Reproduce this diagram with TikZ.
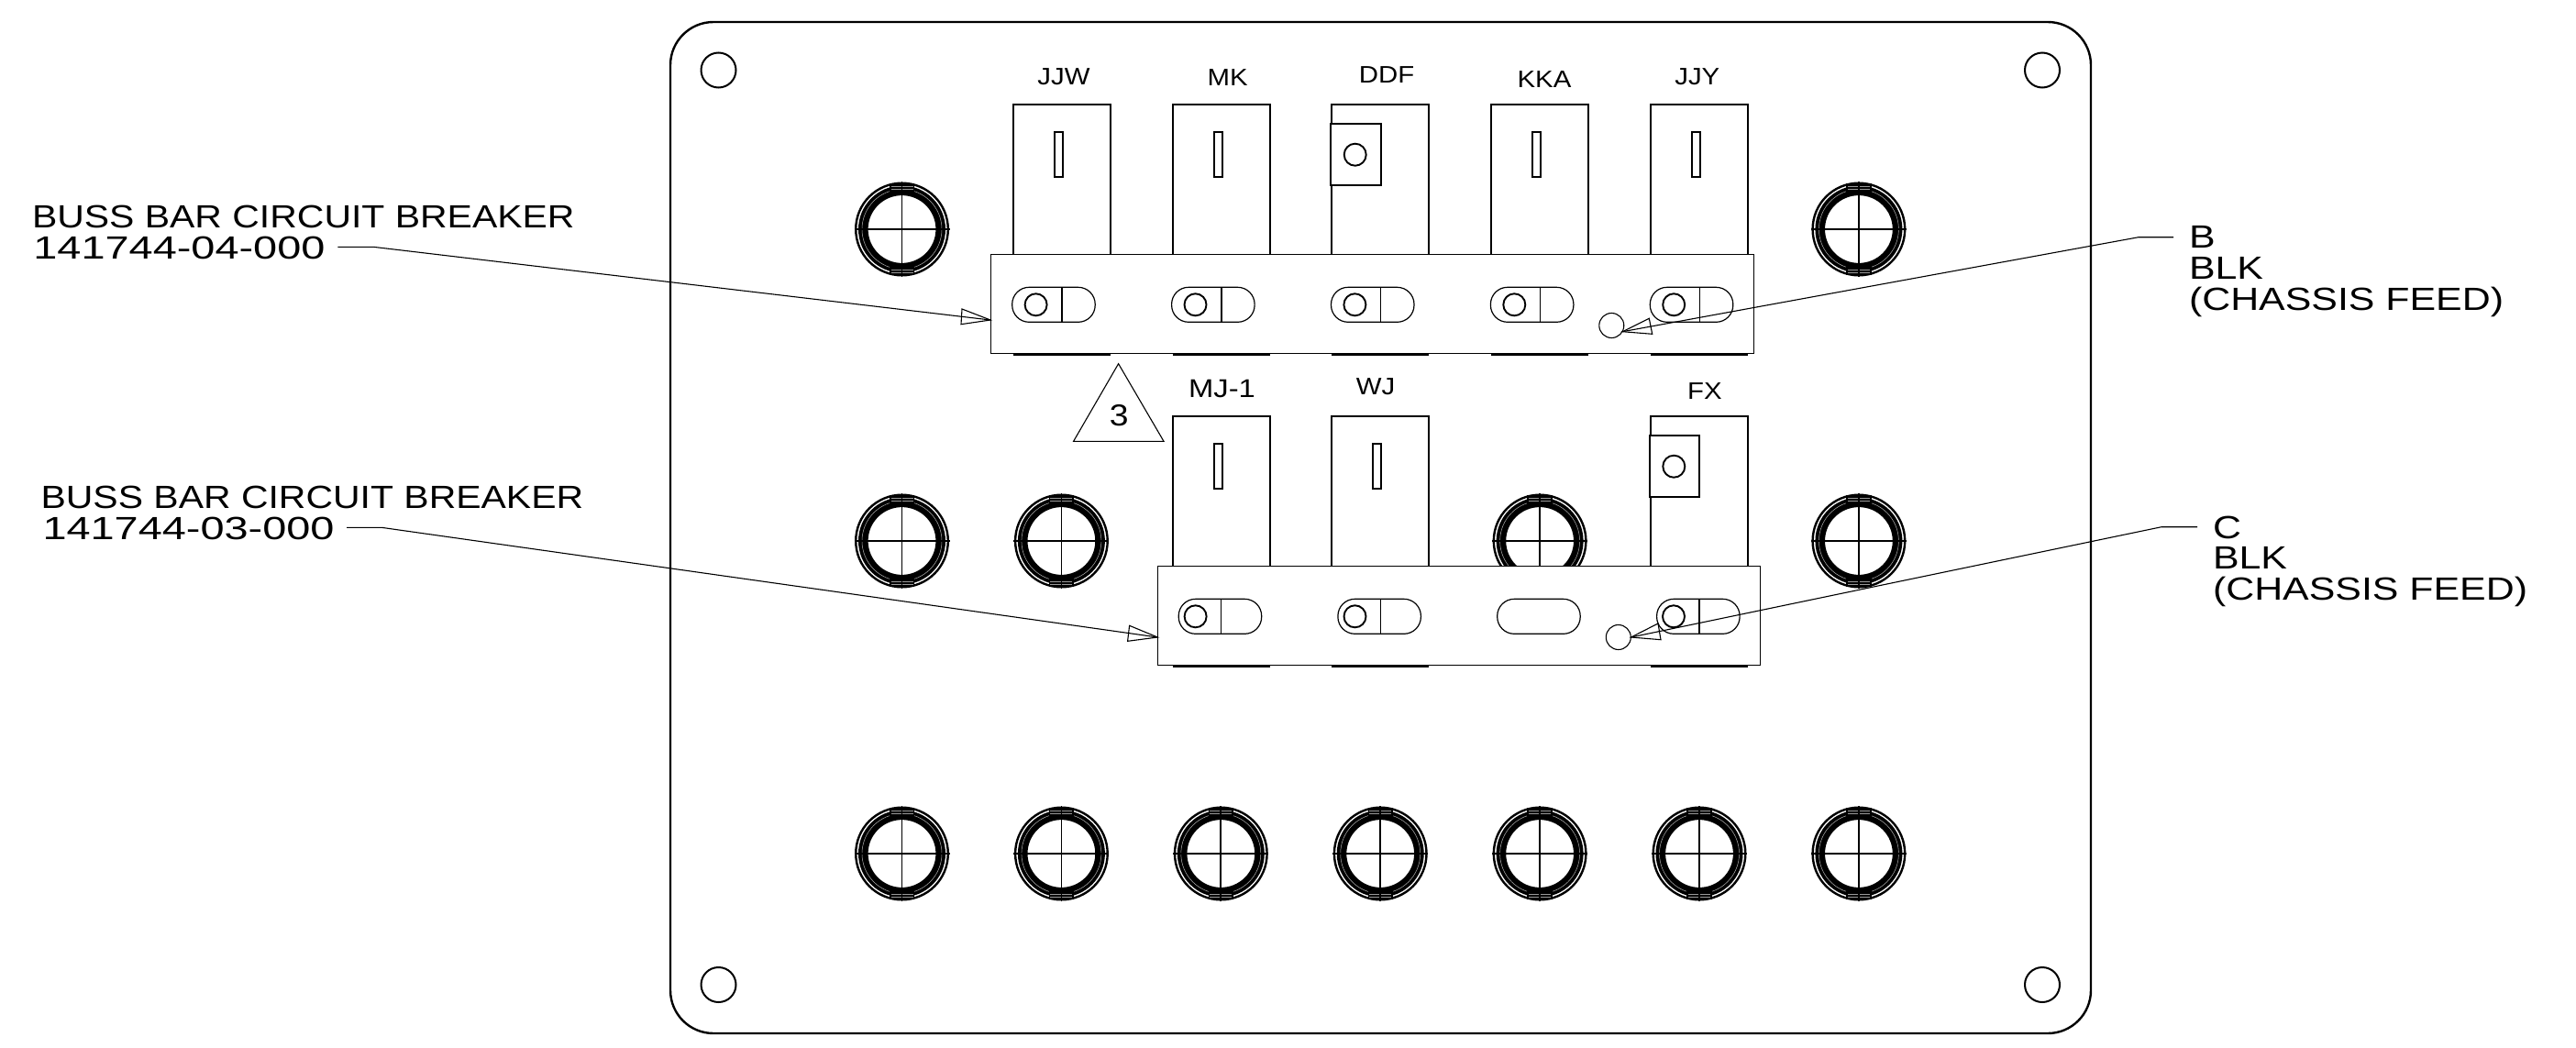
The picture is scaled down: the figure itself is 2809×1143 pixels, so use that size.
\documentclass[tikz,border=0pt]{standalone}
\usepackage{fontspec}
\setmainfont{Liberation Sans}
\newfontfamily\buslbl[FakeStretch=1.17]{Liberation Sans}
\newfontfamily\numlbl[FakeStretch=1.34]{Liberation Sans}
\newfontfamily\feedlbl[FakeStretch=1.225]{Liberation Sans}
\newfontfamily\toplbl[FakeStretch=1.13]{Liberation Sans}
\tikzset{
  plate/.style={draw=black,line width=2.4pt,rounded corners=47pt},
  hole/.style={draw=black,line width=2pt},
  breaker/.style={draw=black,line width=2pt,fill=white},
  slit/.style={draw=black,line width=2pt,fill=white},
  tabbox/.style={draw=black,line width=2pt,fill=white},
  barbox/.style={draw=black,line width=1.2pt,fill=white,rectangle,inner sep=0pt,outer sep=0pt,minimum height=108pt},
  slotline/.style={draw=black,line width=1.2pt},
  screw/.style={draw=black,line width=1.9pt},
  dot/.style={draw=black,line width=1.1pt,fill=white,circle,inner sep=0pt,outer sep=0pt,minimum size=27pt},
  leader/.style={draw=black,line width=1.1pt},
  foot/.style={draw=black,line width=3pt},
  txtb/.style={inner sep=0pt,outer sep=0pt,anchor=base west,text=black,font=\buslbl\fontsize{35}{37}\selectfont},
  txtn/.style={inner sep=0pt,outer sep=0pt,anchor=base west,text=black,font=\numlbl\fontsize{35}{37}\selectfont},
  txtf/.style={inner sep=0pt,outer sep=0pt,anchor=base west,text=black,font=\feedlbl\fontsize{35}{37}\selectfont},
  txtt/.style={inner sep=0pt,outer sep=0pt,anchor=base,text=black,font=\toplbl\fontsize{26}{28}\selectfont},
}
\newcommand{\grommetat}[2]{%
  \begin{scope}[shift={(#1,#2)}]
    \draw[black,line width=2.4pt] (0,0) circle[radius=50.3pt];
    \draw[black,line width=10.6pt] (0,0) circle[radius=42.2pt];
    \draw[white!70!black,line width=.5pt] (0,0) circle[radius=43.5pt];
    \fill[black] (-13.7,-50) rectangle (13.7,-38);
    \fill[black] (-13.7,38) rectangle (13.7,50);
    \foreach \yy in {-47,-44,44,47}{\draw[white!60!black,line width=.5pt] (-12,\yy) -- (12,\yy);}
    \draw[black,line width=1.8pt] (-52,0) -- (52,0);
    \draw[black,line width=1.8pt] (0,-52) -- (0,52);
  \end{scope}}
\newcommand{\breakerat}[3]{\draw[breaker] (#1,#3) -- (#1,#2) -- (#1+106,#2) -- (#1+106,#3);}
\newcommand{\slotat}[2]{\draw[slotline,fill=white,rounded corners=18.5pt] (#1,#2) rectangle (#1+90.5,#2+38);}
\begin{document}
\begin{tikzpicture}[x=1pt,y=-1pt]
\useasboundingbox (0,0) rectangle (2809,1143);
\fill[white] (0,0) rectangle (2809,1143);
% panel
\draw[plate] (731,24) rectangle (2280,1127);
\foreach \cx/\cy in {783.5/76.5,2227/76.5,783.5/1074,2227/1074}{\draw[hole] (\cx,\cy) circle[radius=19pt];}
% grommets
\foreach \i in {0,6}{\grommetat{983.5+173.9*\i}{250}}
\foreach \i in {0,1,4,6}{\grommetat{983.5+173.9*\i}{590}}
\foreach \i in {0,...,6}{\grommetat{983.5+173.9*\i}{931}}
% upper breakers
\foreach \bx in {1105,1279,1452,1626,1800}{\breakerat{\bx}{114}{280}}
\foreach \sx in {1150,1324,1671,1845}{\draw[slit] (\sx,144) rectangle (\sx+9,193);}
\draw[tabbox] (1451,135) rectangle (1506,202);
\draw[screw] (1477.7,168.7) circle[radius=12pt];
% lower breakers
\foreach \bx in {1279,1452,1800}{\breakerat{\bx}{454}{620}}
\foreach \sx in {1324,1497}{\draw[slit] (\sx,484) rectangle (\sx+9,533);}
\draw[tabbox] (1799,475) rectangle (1853,542);
\draw[screw] (1825.3,508.7) circle[radius=12pt];
% upper bar
\foreach \bx in {1105,1279,1452,1626,1800}{\draw[foot] (\bx,386) -- (\bx+106,386);}
\node[barbox,minimum width=832pt] (barA) at (1496.5,331.5) {};
\foreach \i in {0,...,4}{
  \slotat{1103.7+173.9*\i}{313.3}
  \draw[slotline] (1158+173.9*\i,313.3) -- (1158+173.9*\i,351.3);
  \draw[screw] (1129.6+173.9*\i,332.3) circle[radius=12pt];
}
\node[dot] (dotB) at (1757.3,355) {};
% lower bar
\foreach \bx in {1279,1452,1800}{\draw[foot] (\bx,726.5) -- (\bx+106,726.5);}
\node[barbox,minimum width=657pt] (barB) at (1591,671.5) {};
\foreach \sx in {1285.2,1458.9,1632.7,1806.6}{\slotat{\sx}{653.3}}
\foreach \sx in {1331.6,1505.5,1853}{
  \draw[slotline] (\sx,653.3) -- (\sx,691.3);
  \draw[screw] (\sx-28,672.3) circle[radius=12pt];
}
\node[dot] (dotC) at (1764.8,695) {};
% triangle
\coordinate (triA) at (1219.6,396.7);
\coordinate (triB) at (1269,481.3);
\coordinate (triC) at (1170.6,481.3);
\draw[leader] (triA) -- (triB) -- (triC) -- cycle;
\node[txtt,font=\toplbl\fontsize{33}{35}\selectfont] (three) at (1220.3,464.3) {3};
% labels above breakers
\node[txtt] (jjw) at (1160,92) {JJW};
\node[txtt] (mk) at (1338.7,93.3) {MK};
\node[txtt] (ddf) at (1512,90.7) {DDF};
\node[txtt] (kka) at (1684,95) {KKA};
\node[txtt] (jjy) at (1850.8,92.7) {JJY};
\node[txtt,font=\buslbl\fontsize{28}{30}\selectfont] (mj) at (1332.5,433) {MJ-1};
\node[txtt] (wj) at (1500,430) {WJ};
\node[txtt] (fx) at (1859,435.7) {FX};
% left callouts
\node[txtb] (busA) at (35,248.2) {BUSS BAR CIRCUIT BREAKER};
\node[txtn] (numA) at (36.4,282.2) {141744-04-000};
\node[txtb] (busB) at (44.6,554.2) {BUSS BAR CIRCUIT BREAKER};
\node[txtn] (numB) at (46.5,588.2) {141744-03-000};
% right callouts
\node[txtf] (bA) at (2387,270.8) {B};
\node[txtf] (bB) at (2387,304.8) {BLK};
\node[txtf] (bC) at (2387,338.8) {(CHASSIS FEED)};
\node[txtf] (cA) at (2413,587) {C};
\node[txtf] (cB) at (2413,620.8) {BLK};
\node[txtf] (cC) at (2413,654.8) {(CHASSIS FEED)};
% leaders
\coordinate (a0) at (368.4,269.3); \coordinate (a1) at (407,269.3); \coordinate (a2) at (1080,349);
\coordinate (a3) at (1049,337); \coordinate (a4) at (1048,353.7);
\draw[leader] (a0) -- (a1) -- (a2);
\draw[leader] (a3) -- (a2) -- (a4) -- cycle;
\coordinate (b0) at (378,575.3); \coordinate (b1) at (416,575.3); \coordinate (b2) at (1262.3,695);
\coordinate (b3) at (1231.6,682.3); \coordinate (b4) at (1229.6,699.3);
\draw[leader] (b0) -- (b1) -- (b2);
\draw[leader] (b3) -- (b2) -- (b4) -- cycle;
\coordinate (c0) at (2370,258.7); \coordinate (c1) at (2332,258.7); \coordinate (c2) at (1769.3,361.7);
\coordinate (c3) at (1798.3,347.3); \coordinate (c4) at (1801.7,364.3);
\draw[leader] (c0) -- (c1) -- (c2);
\draw[leader] (c3) -- (c2) -- (c4) -- cycle;
\coordinate (d0) at (2396,574.7); \coordinate (d1) at (2357,574.7); \coordinate (d2) at (1778.6,695);
\coordinate (d3) at (1808,680); \coordinate (d4) at (1811,697.7);
\draw[leader] (d0) -- (d1) -- (d2);
\draw[leader] (d3) -- (d2) -- (d4) -- cycle;
\end{tikzpicture}
\end{document}
